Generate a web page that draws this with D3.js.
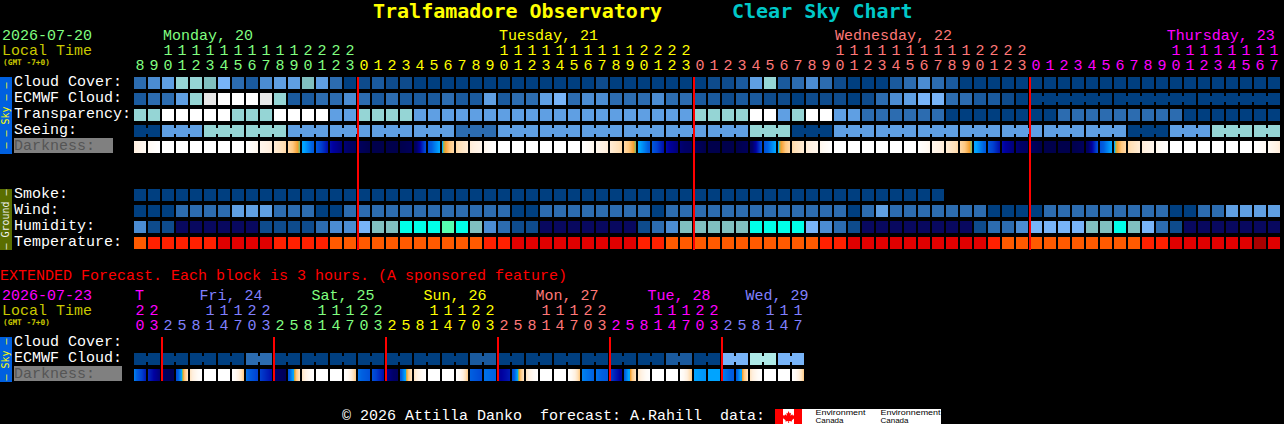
<!DOCTYPE html>
<html><head><meta charset="utf-8">
<script src="https://cdn.jsdelivr.net/npm/d3@7"></script>
<style>html,body{margin:0;padding:0;background:#000;overflow:hidden}svg{display:block}text{font-family:"Liberation Mono",monospace;white-space:pre}text.b{font-family:"DejaVu Sans Mono",monospace}</style>
</head><body><svg id="c" width="1284" height="424"></svg>
<script>
// ---- Data (level indices into the palette below) ----
const palette = ["#003f80","#0e4b8c","#1a5a9e","#2c6cb0","#4b8cd2","#5f9fe3","#78b4f8","#80bfbf","#95d5d5","#e8e8e8","#ffffff","#08085f","#00ffe8","#55ffb0","#aeeae8"];
const tempColors = ["#ff5a00","#ff2000","#e00000","#a80000"];
const hours = [8,9,10,11,12,13,14,15,16,17,18,19,20,21,22,23,0,1,2,3,4,5,6,7,8,9,10,11,12,13,14,15,16,17,18,19,20,21,22,23,0,1,2,3,4,5,6,7,8,9,10,11,12,13,14,15,16,17,18,19,20,21,22,23,0,1,2,3,4,5,6,7,8,9,10,11,12,13,14,15,16,17];
const extHours = [20,23,2,5,8,11,14,17,20,23,2,5,8,11,14,17,20,23,2,5,8,11,14,17,20,23,2,5,8,11,14,17,20,23,2,5,8,11,14,17,20,23,2,5,8,11,14,17];
const dayBreaks = [16,40,64];
const dayColors = ["#80ff80","#ffff00","#ff7878","#ff00ff"];
const dayLabels = ["Monday, 20","Tuesday, 21","Wednesday, 22","Thursday, 23"];
const dayLabelCols = [2,26,50,73.7];
const extBreaks = [2,10,18,26,34,42];
const extColors = ["#ff00ff","#8080ff","#80ff80","#ffff00","#ff7878","#ff00ff","#8080ff"];
const extLabels = ["T","Fri, 24","Sat, 25","Sun, 26","Mon, 27","Tue, 28","Wed, 29"];
const extLabelCols = [0,4.6,12.6,20.6,28.6,36.6,43.6];

const cloud = [3,4,5,8,8,7,6,3,2,4,5,5,7,5,3,0,1,2,1,1,0,0,0,0,0,0,0,0,0,0,0,0,0,1,0,0,0,0,0,0,0,1,1,2,5,8,2,3,4,3,1,0,0,0,2,3,4,3,2,0,0,0,0,0,0,0,0,0,0,0,0,0,0,0,0,0,0,0,0,0,0,0];
const ecmwf = [2,3,3,5,8,9,10,10,10,9,8,2,2,3,3,4,3,2,3,2,2,2,3,2,2,5,2,3,3,5,6,3,4,4,3,3,3,4,3,3,2,2,1,2,2,1,1,0,1,1,1,0,1,3,4,5,6,6,3,3,2,2,1,0,0,0,0,0,0,0,0,0,0,0,0,0,0,0,0,0,0,0];
const transparency = [8,8,10,10,10,10,10,8,8,8,10,10,10,10,5,5,8,8,8,8,5,5,5,5,5,5,5,5,5,5,5,5,5,5,5,5,5,5,5,5,8,8,8,8,10,10,5,8,10,10,5,5,3,3,3,3,3,3,0,0,0,0,0,0,0,0,3,3,3,3,3,3,3,3,3,0,0,0,0,0,0,0];
const seeing = [0,0,5,5,5,8,8,8,8,8,8,5,5,5,5,5,5,5,5,5,5,5,5,3,3,3,5,5,5,5,5,5,5,5,5,5,5,5,5,5,5,5,5,5,8,8,8,0,0,0,5,5,5,5,5,5,5,5,5,5,5,5,5,5,5,5,5,5,5,5,5,0,0,0,5,5,5,8,8,8,8,8];
const seeingBlocks = [0,0,1,1,1,2,2,2,3,3,3,4,4,4,5,5,5,6,6,6,7,7,7,8,8,8,9,9,9,10,10,10,11,11,11,12,12,12,13,13,13,14,14,14,15,15,15,16,16,16,17,17,17,18,18,18,19,19,19,20,20,20,21,21,21,22,22,22,23,23,23,24,24,24,25,25,25,26,26,26,27,27];
const ecmwfBlocks = [0,1,2,3,4,5,6,7,8,9,10,11,12,13,14,15,16,17,18,19,20,21,22,23,24,25,26,27,28,29,30,31,32,33,34,35,36,37,38,39,40,41,42,43,44,45,46,47,48,49,50,51,52,53,54,55,56,57,58,59,60,61,62,63,64,64,64,64,64,64,70,70,70,70,70,70,76,76,76,76,76,76];
const smoke = [0,0,0,0,0,0,0,0,0,0,0,0,0,0,0,0,0,0,0,0,0,0,0,0,0,0,0,0,0,0,0,0,0,0,0,0,0,0,0,0,0,0,0,0,0,0,0,0,0,0,0,0,0,0,0,0,0,0];
const wind = [0,0,0,3,3,3,3,5,5,5,3,3,3,0,0,3,3,3,3,3,3,3,3,3,3,3,3,0,0,3,3,3,3,3,3,3,3,0,3,3,3,3,3,3,3,3,3,3,3,3,3,0,3,5,3,3,3,3,3,3,3,0,0,0,0,3,3,3,3,3,3,3,3,3,0,0,3,3,5,5,5,5];
const humidity = [4,1,1,11,11,11,11,11,11,1,1,1,1,3,4,4,6,7,7,12,12,12,13,12,7,4,3,1,1,11,11,11,11,11,11,11,1,3,4,7,7,7,7,7,12,12,12,12,6,4,3,1,11,11,11,11,11,11,11,11,1,3,3,4,6,6,6,6,7,7,12,7,6,3,1,11,11,11,11,11,11,11];
const temperature = [0,1,1,1,1,1,2,2,2,2,1,1,1,1,0,0,0,0,0,0,0,0,0,0,0,1,1,2,2,2,2,2,2,2,2,2,1,1,0,0,0,0,0,0,0,0,0,0,0,1,1,2,2,2,2,2,2,2,2,2,2,1,0,0,0,0,0,0,0,0,0,0,1,1,2,2,2,2,2,2,3,2];
// sun altitude (deg) at each column boundary, read back from the Darkness colours
const darkness = [10,15,20,20,20,20,20,20,20,13,9,5,0,-6,-13,-17,-20,-24,-24,-24,-21,-7,-0.5,5,9,13,20,20,20,20,20,20,20,13,9,5,0,-6,-13,-17,-20,-24,-24,-24,-21,-7,-0.5,5,9,13,20,20,20,20,20,20,20,13,9,5,0,-6,-13,-17,-20,-24,-24,-24,-21,-7,-0.5,5,9,13,20,20,20,20,20,20,20,15,9];
const extEcmwf = [0,0,0,0,0,0,0,0,3,3,0,0,0,0,0,0,0,0,0,0,0,0,0,0,2,2,0,0,0,0,0,0,0,0,0,0,0,0,2,2,0,0,6,6,14,14,6,6];
const extBlocks = [0,0,1,1,2,2,3,3,4,4,5,5,6,6,7,7,8,8,9,9,10,10,11,11,12,12,13,13,14,14,15,15,16,16,17,17,18,18,19,19,20,20,21,21,22,22,23,23];
const extDarkStart = [-3,-11,-19,-8,7,20,30,20,-4,-9,-17,-7,7,20,30,20,-4,-7,-15,-7,7,20,30,20,-5,-4,-15,-8,7,20,30,20,-3,-4,-9,-6,7,20,30,20,-1,-0.5,-3,-6,7,20,30,20];
const extDarkEnd = [-12,-17,-22,7,20,30,20,3,-9,-13,-22,7,20,30,20,3,-7,-13,-20,7,20,30,20,3,-8,-5,-12,7,20,30,20,3,-5,-6,-15,7,20,30,20,3,-2,-1,-6,7,20,30,20,3];
const mainRows = ["Cloud Cover:","ECMWF Cloud:","Transparency:","Seeing:","Darkness:"];
const groundRows = ["Smoke:","Wind:","Humidity:","Temperature:"];
const extRows = ["Cloud Cover:","ECMWF Cloud:","Darkness:"];

// ---- Scales ----
const svg = d3.select("#c");
const x = d3.scaleLinear().domain([0,1]).range([134,148]);
const yMain = d3.scalePoint().domain(mainRows).range([77,141]);
const yGround = d3.scalePoint().domain(groundRows).range([189,237]);
const yExt = d3.scalePoint().domain(extRows).range([337,369]);
const level = d3.scaleOrdinal().domain(d3.range(palette.length)).range(palette);
const tempScale = d3.scaleOrdinal().domain(d3.range(tempColors.length)).range(tempColors);
const mainColor = d3.scaleThreshold().domain(dayBreaks).range(dayColors);
const extColor = d3.scaleThreshold().domain(extBreaks).range(extColors);
const sun = d3.scaleLinear()
  .domain([-30,-24,-18,-14,-9,-5,-1,-0.01,0,1,3,6,10,15,20])
  .range(["#00004c","#00004c","#000068","#0000a0","#0040d0","#0060e0","#00a4ff","#00a4ff","#70c070","#f5a030","#ffc880","#ffe0b8","#fff0e0","#fffaf4","#ffffff"])
  .clamp(true);
const CW = 12, CH = 12, LBL = 8.6;
const defs = svg.append("defs");

function txt(t,px,py,fill,size,opt={}){
  return svg.append("text").attr("class",opt.bold?"b":null).attr("x",px).attr("y",py).attr("fill",fill).attr("font-size",size)
    .attr("font-weight",opt.bold?"bold":null).attr("text-anchor",opt.anchor||null).text(t);
}
function row(vals,y,scale){
  svg.append("g").selectAll("rect").data(vals).join("rect")
    .attr("x",(d,i)=>x(i)).attr("y",y).attr("width",CW).attr("height",CH)
    .attr("fill",d=>scale(d));
}
function links(vals,blocks,y){
  const idx = d3.range(vals.length-1).filter(i=>blocks[i]===blocks[i+1]);
  svg.append("g").selectAll("rect").data(idx).join("rect")
    .attr("x",i=>x(i)+CW).attr("y",y+3).attr("width",x(1)-x(0)-CW).attr("height",CH-6)
    .attr("fill",i=>level(vals[i]));
}
let gid=0;
function darkRow(starts,ends,y){
  const g = svg.append("g");
  starts.forEach((s,i)=>{
    const id="g"+(gid++), e=ends[i];
    const lg=defs.append("linearGradient").attr("id",id);
    d3.range(CW).forEach(p=>{
      const c=sun(s+(e-s)*(p+0.5)/CW);
      lg.append("stop").attr("offset",p/CW).attr("stop-color",c);
      lg.append("stop").attr("offset",(p+1)/CW).attr("stop-color",c);
    });
    g.append("rect").attr("x",x(i)).attr("y",y).attr("width",CW).attr("height",CH).attr("fill",`url(#${id})`);
  });
}
function axisRows(hrs,colorScale,yT,yU){
  const g=svg.append("g").attr("font-size",15).attr("text-anchor","middle");
  g.selectAll(".t").data(hrs).join("text").attr("class","t")
    .attr("x",(d,i)=>x(i)+6).attr("y",yT).attr("fill",(d,i)=>colorScale(i))
    .text(d=>d>=10?Math.floor(d/10):"");
  g.selectAll(".u").data(hrs).join("text").attr("class","u")
    .attr("x",(d,i)=>x(i)+6).attr("y",yU).attr("fill",(d,i)=>colorScale(i))
    .text(d=>d%10);
}
function redLines(breaks,y0,y1){
  svg.append("g").selectAll("rect").data(breaks).join("rect")
    .attr("x",d=>x(d)-1).attr("y",y0).attr("width",2).attr("height",y1-y0).attr("fill","#ff0000");
}
function side(y0,y1,fill,label,color){
  svg.append("rect").attr("x",0).attr("y",y0).attr("width",12).attr("height",y1-y0).attr("fill",fill);
  const cy=(y0+y1)/2;
  svg.append("text").attr("class","b").attr("transform",`translate(8.5,${cy}) rotate(-90)`).attr("text-anchor","middle")
    .attr("fill",color).attr("font-size",10).text(label);
}

// ---- Header ----
txt("Tralfamadore Observatory",373,18,"#ffff00",20,{bold:true});
txt("Clear Sky Chart",732,18,"#00c8c8",20,{bold:true});
txt("2026-07-20",2,40,"#80ff80",15);
txt("Local Time",2,54.5,"#c8c800",15);
txt("(GMT -7+0)",3,64.5,"#c8c800",7.8,{bold:true});
dayLabels.forEach((l,i)=>txt(l,x(dayLabelCols[i])+1,40,dayColors[i],15));
axisRows(hours,mainColor,54.5,69.5);

// ---- Main rows ----
side(77,154,"#0060e0","– – Sky – –","#ffff00");
side(189,250,"#5a6e00","– Ground –","#f0f0f0");
mainRows.forEach(r=>{ if(r!=="Darkness:") txt(r,14,yMain(r)+LBL,"#ffffff",15); });
svg.append("rect").attr("x",14).attr("y",138).attr("width",99).attr("height",15).attr("fill","#808080");
txt("Darkness:",14,yMain("Darkness:")+LBL,"#555555",15);
groundRows.forEach(r=>txt(r,14,yGround(r)+LBL,"#ffffff",15));

row(cloud,yMain("Cloud Cover:"),level);
row(ecmwf,yMain("ECMWF Cloud:"),level);
links(ecmwf,ecmwfBlocks,yMain("ECMWF Cloud:"));
row(transparency,yMain("Transparency:"),level);
row(seeing,yMain("Seeing:"),level);
links(seeing,seeingBlocks,yMain("Seeing:"));
darkRow(darkness.slice(0,-1),darkness.slice(1),yMain("Darkness:"));
row(smoke,yGround("Smoke:"),level);
row(wind,yGround("Wind:"),level);
row(humidity,yGround("Humidity:"),level);
row(temperature,yGround("Temperature:"),tempScale);
redLines(dayBreaks,77,250);

// ---- Extended ----
txt("EXTENDED Forecast. Each block is 3 hours. (A sponsored feature)",0,280,"#ff0000",15);
txt("2026-07-23",2,299.5,"#ff00ff",15);
txt("Local Time",2,314.5,"#c8c800",15);
txt("(GMT -7+0)",3,324.5,"#c8c800",7.8,{bold:true});
extLabels.forEach((l,i)=>txt(l,x(extLabelCols[i])+1,299.5,extColors[i],15));
axisRows(extHours,extColor,314.5,329.5);
side(337,382,"#0060e0","– Sky –","#ffff00");
txt("Cloud Cover:",14,yExt("Cloud Cover:")+LBL,"#ffffff",15);
txt("ECMWF Cloud:",14,yExt("ECMWF Cloud:")+LBL,"#ffffff",15);
svg.append("rect").attr("x",14).attr("y",366).attr("width",108).attr("height",15).attr("fill","#808080");
txt("Darkness:",14,yExt("Darkness:")+LBL,"#555555",15);
row(extEcmwf,yExt("ECMWF Cloud:"),level);
links(extEcmwf,extBlocks,yExt("ECMWF Cloud:"));
darkRow(extDarkStart,extDarkEnd,yExt("Darkness:"));
redLines(extBreaks,337,381);

// ---- Footer ----
txt("© 2026 Attilla Danko  forecast: A.Rahill  data:",342,419.5,"#ffffff",15);
svg.append("rect").attr("x",775).attr("y",409).attr("width",166).attr("height",15).attr("fill","#ffffff");
svg.append("rect").attr("x",775).attr("y",409).attr("width",8).attr("height",15).attr("fill","#ff0000");
svg.append("rect").attr("x",794).attr("y",409).attr("width",8).attr("height",15).attr("fill","#ff0000");
svg.append("path").attr("fill","#ff0000").attr("d","M788.5 411l1.2 2.4 1.3-.6-.5 3 1.8-1.5.5 1.2 2-.3-.6 2 .8.6-3.2 2.4.3 1.2-3-.4v2h-.8v-2l-3 .4.3-1.2-3.2-2.4.8-.6-.6-2 2 .3.5-1.2 1.8 1.5-.5-3 1.3.6z");
function logoText(t,px,py,w){
  svg.append("text").attr("x",px).attr("y",py).attr("fill","#000").attr("style","font-family:'Liberation Sans'").attr("font-size",6.5)
    .attr("textLength",w).attr("lengthAdjust","spacingAndGlyphs").text(t);
}
logoText("Environment",815.5,415,50);
logoText("Canada",815.5,422.5,28);
logoText("Environnement",880.5,415,60);
logoText("Canada",880.5,422.5,28);
</script></body></html>
